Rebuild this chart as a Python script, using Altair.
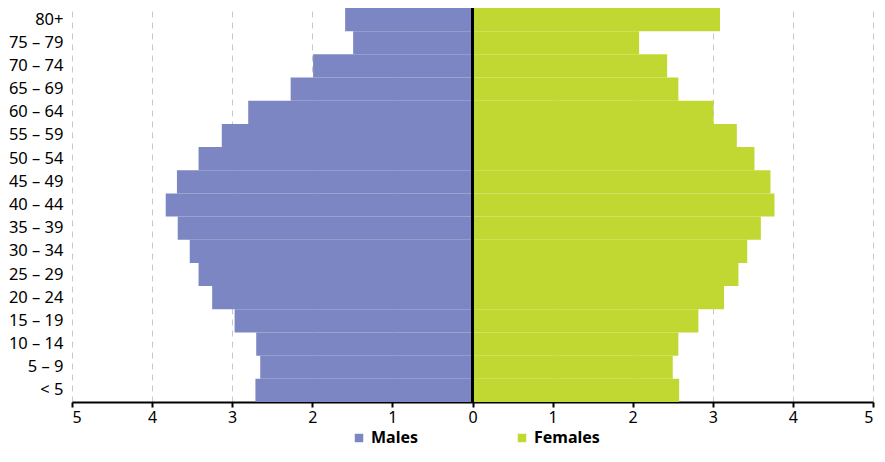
import altair as alt
import pandas as pd

ages = ["80+", "75 \u2013 79", "70 \u2013 74", "65 \u2013 69", "60 \u2013 64", "55 \u2013 59",
        "50 \u2013 54", "45 \u2013 49", "40 \u2013 44", "35 \u2013 39", "30 \u2013 34", "25 \u2013 29",
        "20 \u2013 24", "15 \u2013 19", "10 \u2013 14", "5 \u2013 9", "< 5"]
males = [1.59, 1.49, 1.99, 2.27, 2.80, 3.13, 3.42, 3.69, 3.83, 3.68, 3.53, 3.42,
         3.25, 2.97, 2.70, 2.65, 2.71]
females = [3.09, 2.08, 2.43, 2.57, 3.01, 3.30, 3.52, 3.72, 3.77, 3.60, 3.43, 3.32,
           3.14, 2.82, 2.57, 2.50, 2.58]
series = ["Males", "Females"]
colors = ["#7B86C2", "#C2D832"]
ticks = [-5, -4, -3, -2, -1, 0, 1, 2, 3, 4, 5]

rows = []
for a, m, f in zip(ages, males, females):
    rows.append({"age": a, "sex": "Males", "value": -m})
    rows.append({"age": a, "sex": "Females", "value": f})
df = pd.DataFrame(rows)

FONT = "Noto Sans"

xscale = alt.Scale(domain=[-5, 5], nice=False, zero=False)

bars = alt.Chart(df).mark_bar(strokeWidth=0).encode(
    x=alt.X("value:Q", scale=xscale,
            axis=alt.Axis(values=ticks, labelExpr="abs(datum.value)", title=None,
                          grid=True, gridDash=[6, 5], gridColor="#c8c8c8", gridWidth=1,
                          domainColor="black", domainWidth=2, tickColor="black",
                          tickWidth=2, tickSize=5, labelFontSize=16, labelColor="black",
                          labelFont=FONT, labelPadding=2)),
    x2=alt.datum(0),
    y=alt.Y("age:N", sort=ages, scale=alt.Scale(paddingInner=0, paddingOuter=0),
            axis=alt.Axis(title=None, ticks=False, domain=False, labelFontSize=16.5,
                          labelColor="black", labelFont=FONT, labelPadding=9)),
    color=alt.Color("sex:N", scale=alt.Scale(domain=series, range=colors),
                    legend=alt.Legend(title=None, orient="none", legendX=279, legendY=422,
                                      direction="horizontal", symbolType="square",
                                      symbolSize=72, symbolStrokeWidth=0,
                                      labelFontSize=16, labelFontWeight="bold",
                                      labelFont=FONT, labelColor="black",
                                      columnPadding=95, labelOffset=4)),
)

zero = alt.Chart(df).mark_rule(color="black", strokeWidth=2).encode(
    x=alt.datum(0, scale=xscale)
)

chart = alt.layer(bars, zero).properties(
    width=801, height=394,
    autosize=alt.AutoSizeParams(type="none"),
    padding={"left": 64, "top": 0, "right": 4, "bottom": 46},
).configure_view(stroke=None)

chart.save("out.html", embed_options={"renderer": "svg", "actions": False})
